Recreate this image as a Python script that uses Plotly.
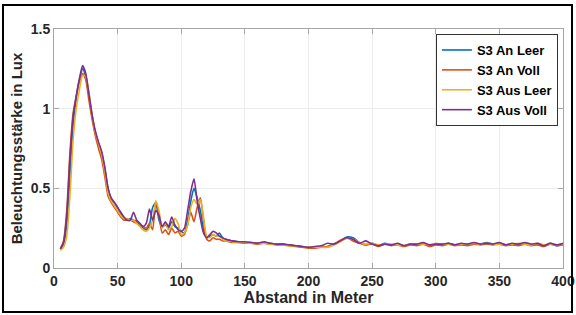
import plotly.graph_objects as go

# distance (m)
x_near = [5, 7.5, 10, 12.5, 15, 17.5, 20, 22.5, 25, 27.5, 30, 32.5, 35, 37.5, 40, 42.5, 45, 47.5,
          50, 52.5, 55, 57.5, 60, 62.5, 65, 67.5, 70, 72.5, 75, 77.5, 80, 82.5, 85, 87.5, 90, 92.5,
          95, 97.5, 100, 102.5, 105, 107.5, 110, 112.5, 115, 117.5, 120, 122.5, 125, 127.5, 130,
          132.5, 135, 137.5, 140]
x_far = [145, 150, 155, 160, 165, 170, 175, 180, 185, 190, 195, 200, 205, 210, 215, 220, 225, 230,
         235, 240, 245, 250, 255, 260, 265, 270, 275, 280, 285, 290, 295, 300, 305, 310, 315, 320,
         325, 330, 335, 340, 345, 350, 355, 360, 365, 370, 375, 380, 385, 390, 395, 400]
distance = x_near + x_far

an_leer = [0.12, 0.15, 0.27, 0.58, 0.90, 1.07, 1.18, 1.25, 1.20, 1.08, 0.95, 0.85, 0.78, 0.72, 0.62, 0.50, 0.43, 0.41,
           0.38, 0.34, 0.31, 0.30, 0.31, 0.30, 0.29, 0.27, 0.25, 0.24, 0.27, 0.38, 0.41, 0.30, 0.26, 0.27, 0.25, 0.29,
           0.26, 0.25, 0.23, 0.22, 0.30, 0.42, 0.50, 0.44, 0.36, 0.24, 0.19, 0.20, 0.21, 0.20, 0.22,
           0.19, 0.18, 0.175, 0.17,
           0.165, 0.16, 0.16, 0.155, 0.16, 0.155, 0.15, 0.15, 0.145, 0.14, 0.135, 0.13, 0.13, 0.13, 0.135, 0.15, 0.17, 0.195,
           0.19, 0.16, 0.145, 0.155, 0.14, 0.155, 0.145, 0.15, 0.14, 0.15, 0.145, 0.155, 0.14, 0.15, 0.145, 0.155, 0.145, 0.15,
           0.145, 0.155, 0.15, 0.16, 0.15, 0.155, 0.145, 0.15, 0.145, 0.155, 0.145, 0.15, 0.14, 0.155, 0.14, 0.15]
an_voll = [0.12, 0.17, 0.36, 0.72, 0.97, 1.08, 1.17, 1.22, 1.18, 1.05, 0.93, 0.83, 0.75, 0.68, 0.57, 0.45, 0.41, 0.38,
           0.35, 0.32, 0.30, 0.30, 0.30, 0.29, 0.28, 0.27, 0.26, 0.25, 0.28, 0.24, 0.42, 0.33, 0.22, 0.24, 0.21, 0.25,
           0.22, 0.23, 0.20, 0.21, 0.27, 0.35, 0.29, 0.38, 0.44, 0.30, 0.18, 0.17, 0.19, 0.18, 0.18,
           0.17, 0.17, 0.165, 0.16,
           0.16, 0.155, 0.155, 0.15, 0.155, 0.15, 0.145, 0.145, 0.14, 0.135, 0.13, 0.125, 0.125, 0.13, 0.135, 0.15, 0.175, 0.19,
           0.17, 0.155, 0.145, 0.15, 0.135, 0.15, 0.14, 0.145, 0.135, 0.145, 0.14, 0.15, 0.135, 0.145, 0.14, 0.15, 0.14, 0.145,
           0.14, 0.15, 0.145, 0.15, 0.145, 0.15, 0.14, 0.145, 0.14, 0.15, 0.14, 0.145, 0.135, 0.15, 0.14, 0.145]
aus_leer = [0.11, 0.13, 0.20, 0.45, 0.80, 1.00, 1.12, 1.21, 1.20, 1.10, 0.96, 0.85, 0.78, 0.71, 0.60, 0.47, 0.42, 0.39,
            0.36, 0.33, 0.31, 0.31, 0.30, 0.30, 0.28, 0.26, 0.24, 0.23, 0.25, 0.30, 0.42, 0.36, 0.25, 0.28, 0.24, 0.26,
            0.31, 0.28, 0.21, 0.22, 0.27, 0.38, 0.43, 0.40, 0.43, 0.32, 0.20, 0.19, 0.21, 0.20, 0.20,
            0.18, 0.17, 0.17, 0.165,
            0.16, 0.16, 0.155, 0.155, 0.155, 0.15, 0.15, 0.145, 0.14, 0.14, 0.135, 0.13, 0.13, 0.13, 0.13, 0.145, 0.165, 0.185,
            0.18, 0.16, 0.15, 0.155, 0.145, 0.15, 0.15, 0.145, 0.14, 0.15, 0.15, 0.15, 0.145, 0.155, 0.15, 0.15, 0.145, 0.15,
            0.15, 0.155, 0.15, 0.155, 0.15, 0.15, 0.145, 0.15, 0.155, 0.15, 0.145, 0.155, 0.145, 0.15, 0.145, 0.15]
aus_voll = [0.12, 0.16, 0.33, 0.68, 0.95, 1.08, 1.19, 1.27, 1.22, 1.09, 0.96, 0.86, 0.79, 0.73, 0.63, 0.50, 0.44, 0.41,
            0.38, 0.35, 0.32, 0.30, 0.30, 0.35, 0.30, 0.28, 0.26, 0.28, 0.37, 0.30, 0.36, 0.33, 0.26, 0.29, 0.26, 0.32,
            0.27, 0.24, 0.23, 0.25, 0.36, 0.48, 0.56, 0.42, 0.31, 0.22, 0.19, 0.21, 0.23, 0.22, 0.20,
            0.19, 0.18, 0.175, 0.17,
            0.165, 0.165, 0.16, 0.155, 0.165, 0.155, 0.15, 0.15, 0.145, 0.14, 0.135, 0.13, 0.135, 0.14, 0.155, 0.15, 0.17, 0.19,
            0.18, 0.155, 0.17, 0.15, 0.14, 0.15, 0.145, 0.155, 0.14, 0.15, 0.15, 0.16, 0.145, 0.15, 0.15, 0.155, 0.145, 0.155,
            0.15, 0.16, 0.15, 0.155, 0.15, 0.16, 0.145, 0.155, 0.15, 0.16, 0.15, 0.155, 0.14, 0.155, 0.145, 0.155]

series_names = ["S3 An Leer", "S3 An Voll", "S3 Aus Leer", "S3 Aus Voll"]
series_values = [an_leer, an_voll, aus_leer, aus_voll]
series_colors = ["#0072BD", "#D95319", "#EDB120", "#7E2F8E"]

x_ticks = [0, 50, 100, 150, 200, 250, 300, 350, 400]
y_ticks = [0, 0.5, 1, 1.5]
y_tick_labels = ["0", "0.5", "1", "1.5"]

FONT = "Liberation Sans, Arial, sans-serif"

fig = go.Figure()
for name, vals, col in zip(series_names, series_values, series_colors):
    fig.add_trace(go.Scatter(x=distance, y=vals, mode="lines", name=name,
                             line=dict(color=col, width=1.6, shape="spline", smoothing=0.6)))

axis_common = dict(showline=True, linecolor="#a6a6a6", linewidth=1, mirror="ticks",
                   ticks="inside", ticklen=5, tickcolor="#a6a6a6",
                   showgrid=True, gridcolor="#ececec", gridwidth=1, zeroline=False,
                   ticklabeloverflow="allow", automargin=False,
                   tickfont=dict(family=FONT, size=14, color="#262626", weight="bold"))

fig.update_xaxes(range=[0, 400], tickvals=x_ticks,
                 title=dict(text="Abstand in Meter", standoff=0,
                            font=dict(family=FONT, size=16, color="#262626", weight="bold")),
                 **axis_common)
fig.update_yaxes(range=[0, 1.5], tickvals=y_ticks, ticktext=y_tick_labels,
                 title=dict(text="Beleuchtungsstärke in Lux", standoff=4,
                            font=dict(family=FONT, size=15, color="#262626", weight="bold")),
                 **axis_common)

fig.update_layout(
    width=576, height=315,
    margin=dict(l=54, r=13, t=29, b=47, autoexpand=False),
    paper_bgcolor="white", plot_bgcolor="white",
    font=dict(family=FONT),
    legend=dict(x=0.99, y=0.979, xanchor="right", yanchor="top",
                bgcolor="white", bordercolor="#333333", borderwidth=1,
                font=dict(family=FONT, size=13, color="#000000", weight="bold"),
                itemwidth=30, tracegroupgap=0),
    showlegend=True,
)

# outer frame around the whole figure
fig.add_shape(type="rect", xref="paper", yref="paper",
              x0=-0.1002, x1=1.0177, y0=-0.184, y1=1.100,
              line=dict(color="black", width=2), fillcolor="rgba(0,0,0,0)", layer="above")

fig.write_html("out.html", config={"displayModeBar": False},
               post_script="document.body.style.margin='0';document.body.style.padding='0';")
